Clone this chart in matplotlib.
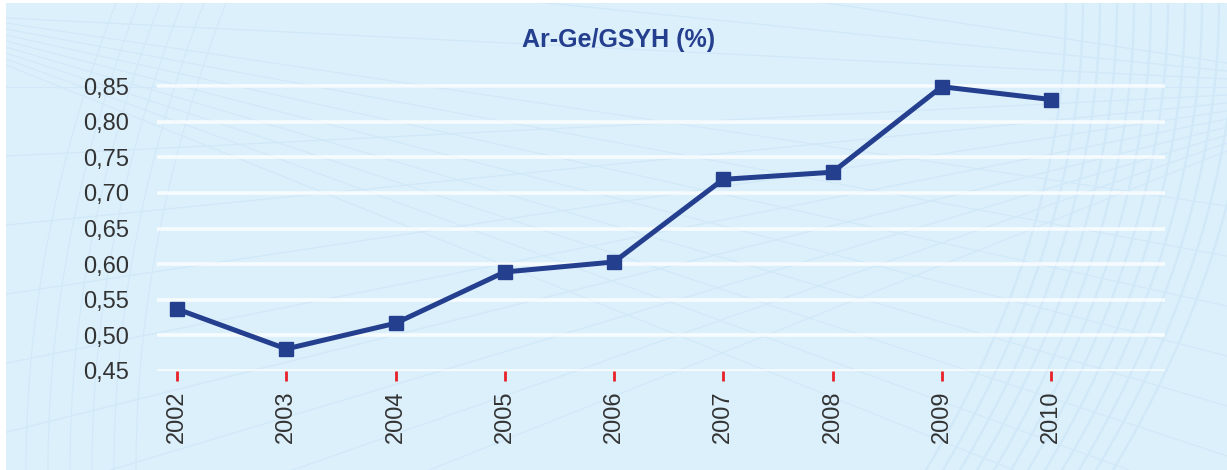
import matplotlib
matplotlib.use("Agg")
import matplotlib.pyplot as plt
import numpy as np

# data
years = ["2002", "2003", "2004", "2005", "2006", "2007", "2008", "2009", "2010"]
ratio = [0.537, 0.481, 0.517, 0.589, 0.603, 0.719, 0.729, 0.849, 0.831]
y_ticks = [0.45, 0.50, 0.55, 0.60, 0.65, 0.70, 0.75, 0.80, 0.85]
y_labels = ["0,45", "0,50", "0,55", "0,60", "0,65", "0,70", "0,75", "0,80", "0,85"]
title = "Ar-Ge/GSYH (%)"

bg = "#dcf0fc"
deco = "#d0e8f8"
navy = "#253f8f"

plt.rcParams['font.family'] = ['Liberation Sans', 'DejaVu Sans']

fig = plt.figure(figsize=(12.27, 4.70), dpi=100, facecolor="white")

# light blue panel with a faint decorative mesh behind the chart
bgax = fig.add_axes([6 / 1227, 0, 1 - 6 / 1227, 1 - 3 / 470])
bgax.set_xlim(0, 1221)
bgax.set_ylim(467, 0)
bgax.axis("off")
bgax.add_patch(plt.Rectangle((0, 0), 1221, 467, color=bg, zorder=0))
t = np.linspace(0, 1, 200)
# fan of long straight-ish strokes from the upper right
for k in range(12):
    a = -0.15 + k * 0.05
    bgax.plot([1221, 0], [60 + k * 8, 60 + k * 8 + 1221 * a], color=deco, lw=0.9, zorder=1)
for k in range(8):
    a = 0.25 + k * 0.06
    bgax.plot([0, 1221], [20 + k * 6, 20 + k * 6 + 1221 * a * 0.6], color=deco, lw=0.8, zorder=1)
# curved bundle on the right
for k in range(12):
    x0 = 1060 + k * 14
    bgax.plot(x0 - 140 * t ** 2 + k * 3, 467 * t, color=deco, lw=1.6, zorder=1)
# curved bundle on the left
for k in range(6):
    x0 = 20 + k * 22
    bgax.plot(x0 + 90 * (1 - t) ** 2, 467 * t, color=deco, lw=0.8, zorder=1)

# chart axes
y_lo, y_hi = 0.45, 0.87
px_per_unit = 712.5
top_px = 371 - (y_hi - y_lo) * px_per_unit
ax = fig.add_axes([157 / 1227, (470 - 371) / 470, (1165 - 157) / 1227, (371 - top_px) / 470])
ax.patch.set_alpha(0)
x = np.arange(len(years))
ax.set_xlim(-20 / 109.25, 8 + 114 / 109.25)
ax.set_ylim(y_lo, y_hi)
for v in y_ticks:
    ax.axhline(v, color="white", lw=2.6, alpha=0.75, zorder=1)
ax.plot(x, ratio, color=navy, lw=3.6, marker="s", markersize=10.5, zorder=3, clip_on=False)

for s in ax.spines.values():
    s.set_visible(False)
ax.set_xticks(x)
ax.set_xticklabels(years, rotation=90, fontsize=17, color="#333333")
ax.tick_params(axis="x", direction="out", length=7, width=2.0, color="#e8202a", pad=7)
ax.set_yticks(y_ticks)
ax.set_yticklabels(y_labels, fontsize=17, color="#333333")
ax.tick_params(axis="y", length=0, pad=20)

fig.text(619 / 1227, 1 - 40 / 470, title, ha="center", va="center",
         fontsize=18, fontweight="bold", color=navy)

fig.savefig("out.png", dpi=100, facecolor="white")
